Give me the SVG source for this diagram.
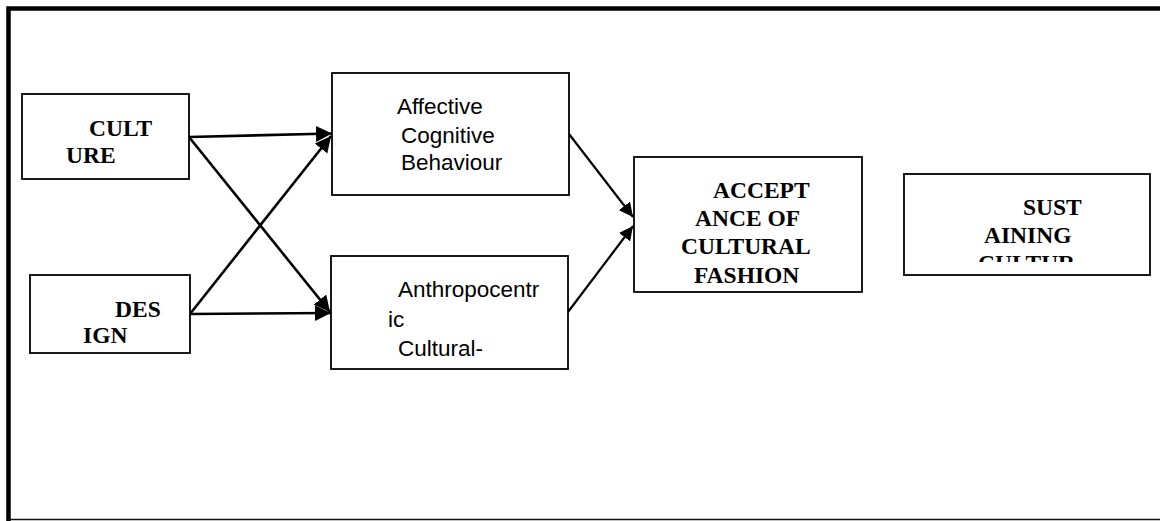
<svg xmlns="http://www.w3.org/2000/svg" width="1160" height="521" viewBox="0 0 1160 521">
<style>
.box{fill:#fff;stroke:#000;stroke-width:1.8}
.b{font-family:"Liberation Serif","Times New Roman",serif;font-weight:bold;font-size:23.5px;fill:#000}
.n{font-family:"Liberation Sans",Arial,sans-serif;font-size:22.5px;fill:#000}
.c{stroke:#000;stroke-width:2.6;fill:none;marker-end:url(#ah)}
.c2{stroke:#000;stroke-width:2.2;fill:none;marker-end:url(#ah2)}
</style>
<defs>
<marker id="ah" markerUnits="userSpaceOnUse" markerWidth="17" markerHeight="17" refX="16" refY="8" orient="auto">
<path d="M0,0 L16,8 L0,16 z" fill="#000"/>
</marker>
<marker id="ah2" markerUnits="userSpaceOnUse" markerWidth="15" markerHeight="14" refX="14" refY="7" orient="auto">
<path d="M0,0 L14,7 L0,14 z" fill="#000"/>
</marker>
<clipPath id="clipS"><rect x="904" y="174" width="246" height="88"/></clipPath>
<clipPath id="clipD"><rect x="30" y="275" width="160" height="69"/></clipPath>
</defs>
<rect width="1160" height="521" fill="#fff"/>
<g id="frame">
<path d="M8.5,521 V8.5 H1160" fill="none" stroke="#000" stroke-width="4.5"/>
<path d="M8,519.5 H1160" fill="none" stroke="#111" stroke-width="1.5"/>
</g>
<g id="connectors">
<path class="c" d="M189,137 L332,133.5"/>
<path class="c" d="M189,137 L330,312"/>
<path class="c" d="M190,314 L331,136"/>
<path class="c" d="M190,314 L331,313"/>
<path class="c2" d="M569,134 L633,217"/>
<path class="c2" d="M568,312 L633,226"/>
</g>
<g id="culture">
<rect class="box" x="22" y="94" width="167" height="85"/>
<text class="b" x="89" y="136">CULT</text>
<text class="b" x="66" y="163">URE</text>
</g>
<g id="design">
<rect class="box" x="30" y="275" width="160" height="78"/>
<text class="b" x="115" y="317">DES</text>
<text class="b" x="83" y="343" clip-path="url(#clipD)">IGN</text>
</g>
<g id="affective">
<rect class="box" x="332" y="73" width="237" height="122"/>
<text class="n" x="397" y="114">Affective</text>
<text class="n" x="401" y="143">Cognitive</text>
<text class="n" x="401" y="170">Behaviour</text>
</g>
<g id="anthropocentric">
<rect class="box" x="331" y="256" width="237" height="113"/>
<text class="n" x="398" y="297">Anthropocentr</text>
<text class="n" x="388" y="327">ic</text>
<text class="n" x="398" y="356">Cultural-</text>
</g>
<g id="acceptance">
<rect class="box" x="634" y="157" width="228" height="135"/>
<text class="b" x="713" y="198">ACCEPT</text>
<text class="b" x="695" y="226">ANCE OF</text>
<text class="b" x="681" y="254">CULTURAL</text>
<text class="b" x="694" y="283">FASHION</text>
</g>
<g id="sustaining">
<rect class="box" x="904" y="174" width="246" height="101"/>
<text class="b" x="1023" y="215">SUST</text>
<text class="b" x="984" y="243">AINING</text>
<text class="b" x="978" y="271" clip-path="url(#clipS)">CULTUR</text>
</g>
</svg>
